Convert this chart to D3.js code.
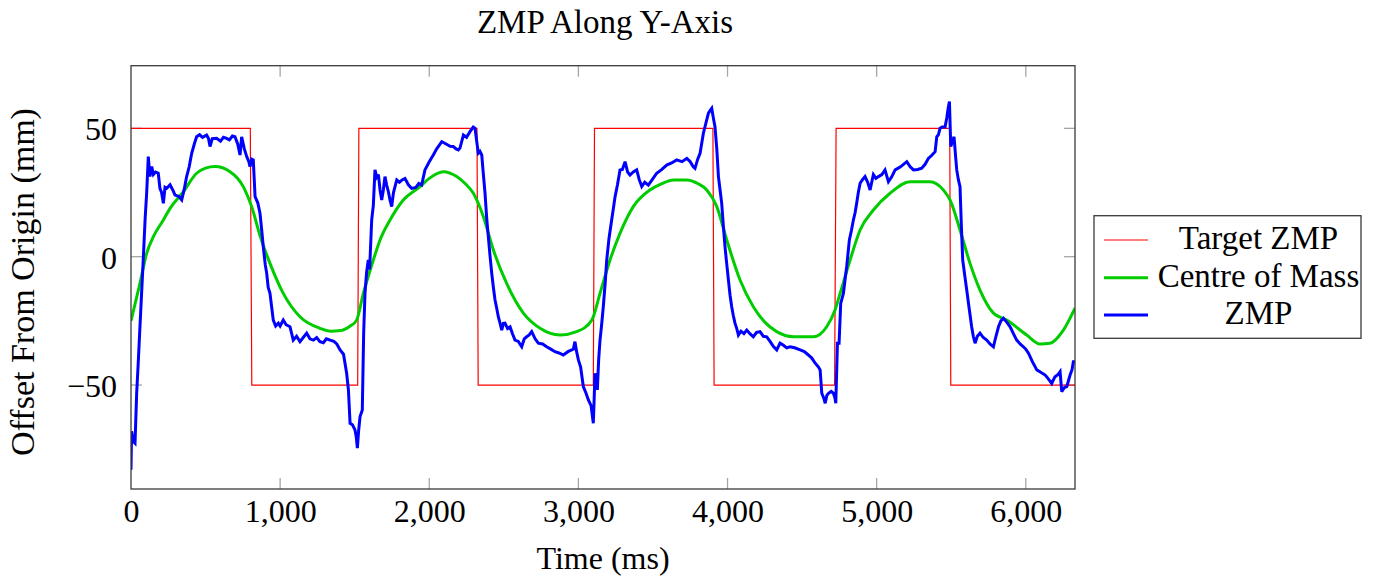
<!DOCTYPE html>
<html>
<head>
<meta charset="utf-8">
<script src="https://cdn.jsdelivr.net/npm/d3@7"></script>
<style>
  html, body { margin: 0; padding: 0; background: #fff; }
  svg text { font-family: "Liberation Serif", "Times New Roman", serif; fill: #000; }
</style>
</head>
<body>
<svg id="chart" width="1383" height="580"></svg>
<script>
// ---------------- DATA ----------------
const chartTitle = "ZMP Along Y-Axis";
const xLabel = "Time (ms)";
const yLabel = "Offset From Origin (mm)";
const seriesNames = ["Target ZMP", "Centre of Mass", "ZMP"];
const xTickValues = [0, 1000, 2000, 3000, 4000, 5000, 6000];
const yTickValues = [-50, 0, 50];
const xDomain = [0, 6330];
const yDomain = [-90.5, 74.4];

// Target ZMP (step function)
const targetTime = [0, 800, 810, 1520, 1528, 2320, 2328, 3100, 3108, 3902, 3910, 4718, 4728, 5490, 5497, 6330];
const targetValue = [50, 50, -50, -50, 50, 50, -50, -50, 50, 50, -50, -50, 50, 50, -50, -50];

// Centre of Mass [time, value]
const comPoints = [
  [0,-25],[60,-10.4],[105,1.3],[150,7.8],[217,14.3],[262,18.8],[351,25.3],[440,32.5],[500,34.5],[563,35.1],
  [664,33.1],[753,27.3],[809,19.5],[867,7.8],[932,-2.6],[1021,-14.3],[1133,-23.4],[1267,-27.9],[1340,-29],[1402,-28.8],
  [1470,-27],[1513,-24.7],[1558,-14.3],[1625,-1.3],[1670,6.5],[1737,14.3],[1826,22.1],[1938,27.3],[2000,30.5],[2095,33.1],
  [2184,31.2],[2240,28.5],[2296,24.7],[2363,15.6],[2430,2.6],[2519,-10.4],[2631,-22],[2743,-27.9],[2877,-30.5],[2989,-29.2],
  [3090,-24.7],[3145,-14.3],[3212,-1.3],[3279,9.1],[3368,19.5],[3480,26],[3560,28.5],[3637,29.9],[3727,29.9],[3800,28.5],
  [3861,26],[3928,19.5],[3995,6.5],[4084,-9.1],[4173,-19.5],[4250,-25.5],[4330,-29.2],[4442,-31.2],[4576,-31.2],[4665,-27.3],
  [4721,-20.8],[4755,-14.3],[4822,-1.3],[4889,10.4],[4978,18.2],[5090,24.7],[5224,29.2],[5358,29.2],[5447,26],[5492,22.1],
  [5559,10.4],[5626,-2.6],[5693,-13],[5783,-22],[5872,-24.7],[6006,-30.5],[6095,-34],[6163,-33.7],[6252,-28.6],[6330,-20]
];

// Measured ZMP [time, value]
const zmpPoints = [
  [0,-83],[4,-68],[15,-72],[27,-72.7],[38,-53.2],[48,-42],[60,-27.3],[82,-1.3],[95,15],[105,24.7],
  [116,39],[127,31.2],[139,35.1],[150,32],[165,33],[183,32.5],[194,26.6],[205,25],[217,20.8],[228,27],
  [239,26.6],[262,28],[280,26],[295,24],[320,23.5],[340,22.1],[356,26],[373,31.2],[390,35],[407,40.3],
  [425,44],[440,46.7],[460,47.5],[480,46.5],[507,47.4],[520,46],[530,42.9],[545,46],[574,46.1],[600,45],
  [620,46.5],[641,46.1],[660,45.5],[680,47],[697,46.7],[715,44],[731,39.6],[742,46.7],[760,42],[776,39],
  [790,37],[798,35.1],[810,38],[820,37.7],[832,23.4],[850,21],[865,16.9],[877,10],[887,3.9],[900,-3],
  [910,-6.5],[920,-12],[932,-14.3],[944,-20],[954,-24.7],[970,-27],[988,-25.9],[1000,-27],[1021,-24.7],[1040,-26.5],
  [1066,-27.3],[1088,-32.5],[1110,-31],[1133,-33.1],[1155,-31.5],[1178,-29.8],[1200,-32],[1223,-32.5],[1245,-31.5],[1267,-33.1],
  [1290,-33.5],[1310,-32],[1335,-32.5],[1360,-33],[1380,-34],[1402,-36.3],[1425,-38],[1446,-45.4],[1458,-52],[1469,-64.9],
  [1485,-65.5],[1502,-67.5],[1510,-70],[1518,-74.6],[1526,-68],[1536,-62.3],[1551,-59.7],[1560,-30],[1569,-14.3],[1580,-6],
  [1591,-1.3],[1600,-5],[1614,14.3],[1625,20],[1636,33.8],[1648,31],[1659,32],[1670,26],[1681,22.1],[1692,26],
  [1703,31.2],[1714,28],[1726,25.3],[1737,22],[1748,19.5],[1760,25],[1782,29.9],[1800,29],[1820,30],[1837,30.5],
  [1860,28],[1882,26.6],[1910,27],[1930,28.5],[1949,27.9],[1971,33.8],[2000,37],[2027,39.6],[2050,42],[2084,44.8],
  [2110,44],[2140,43],[2161,42.9],[2180,42],[2195,41.6],[2206,42.3],[2229,47.4],[2250,46.5],[2273,48.7],[2295,50.5],
  [2307,50],[2318,45],[2329,40.3],[2340,41],[2352,39.6],[2363,32],[2374,24.7],[2385,15],[2396,7.8],[2408,0],
  [2419,-6.5],[2430,-12],[2441,-16.9],[2452,-20],[2463,-23.4],[2475,-26],[2486,-28.6],[2497,-26],[2508,-25.9],[2525,-28],
  [2542,-27.3],[2558,-30],[2575,-32.5],[2597,-33],[2620,-35.1],[2637,-32],[2653,-31.2],[2670,-30.5],[2687,-29.2],[2710,-32],
  [2731,-33.7],[2760,-34],[2787,-35.1],[2815,-36],[2843,-37],[2870,-37.5],[2899,-38.3],[2930,-37],[2955,-36.3],[2966,-36],
  [2977,-33.1],[2988,-37],[3000,-40.2],[3015,-43],[3033,-50.6],[3050,-53],[3067,-55.8],[3085,-58],[3100,-64.9],[3106,-55],
  [3111,-45.4],[3120,-48],[3127,-51.9],[3136,-40],[3145,-32.5],[3155,-27],[3167,-19.5],[3180,-10],[3190,-1.3],[3205,7],
  [3223,14.3],[3235,19],[3246,23.4],[3262,28],[3279,33.8],[3295,34],[3313,37],[3330,33],[3346,31.8],[3368,33],
  [3391,33.8],[3408,30],[3425,27.3],[3445,29],[3469,27.9],[3495,30],[3525,32.5],[3560,34],[3592,35.7],[3625,36.5],
  [3659,37.7],[3695,37],[3727,38.3],[3750,37],[3770,35],[3782,34.4],[3800,38],[3816,40.3],[3838,48.1],[3855,52],
  [3872,55.9],[3884,57],[3894,57.8],[3905,54],[3916,50.6],[3928,42],[3939,31.2],[3950,26],[3961,20.8],[3972,12],
  [3983,3.9],[3995,-3],[4006,-9.1],[4017,-15],[4028,-19.5],[4039,-23],[4050,-25.9],[4062,-28],[4073,-30.5],[4090,-29],
  [4110,-30],[4129,-28.6],[4150,-30],[4173,-31.2],[4195,-29.5],[4218,-29.2],[4240,-31],[4263,-31.2],[4285,-33],[4308,-35],
  [4330,-36.3],[4352,-33.7],[4375,-34.5],[4397,-35.5],[4419,-35.1],[4450,-35.5],[4487,-36.3],[4515,-37],[4542,-38.3],[4565,-39.5],
  [4588,-41.5],[4610,-43],[4621,-44.1],[4632,-53.2],[4645,-55],[4655,-57.1],[4666,-54],[4677,-53.2],[4695,-52.5],[4710,-53.2],
  [4720,-55],[4726,-57.1],[4737,-33.7],[4748,-33.7],[4759,-18.2],[4777,-14.3],[4788,-9],[4799,-3.9],[4817,6.5],[4830,10],
  [4844,14.3],[4855,17],[4866,20.8],[4877,25],[4889,28.6],[4905,30],[4922,31.2],[4940,29],[4956,26],[4978,32],
  [4995,30.5],[5012,31.2],[5035,32],[5056,33.8],[5079,29.2],[5100,31],[5124,33.8],[5160,35],[5202,37],[5225,35],
  [5247,33.8],[5275,34],[5302,34.5],[5325,36],[5347,38.3],[5370,39.5],[5392,40.9],[5403,46.7],[5414,47.5],[5425,50],
  [5440,50.5],[5459,50.6],[5470,54],[5480,58],[5488,60.4],[5497,42.9],[5508,45],[5519,46.7],[5528,40],[5537,33.8],
  [5548,30],[5559,27.3],[5568,12],[5577,-1.3],[5590,-7],[5604,-13],[5620,-20],[5637,-27.3],[5648,-31],[5660,-33.7],
  [5675,-31],[5693,-29.8],[5715,-31.5],[5738,-32.5],[5760,-34],[5783,-35.1],[5800,-31],[5817,-27.3],[5833,-25],[5850,-24],
  [5872,-25.5],[5895,-27.3],[5917,-30],[5939,-32.5],[5962,-34],[5984,-35.1],[6000,-36],[6018,-37.6],[6045,-41],[6074,-44.1],
  [6100,-45],[6130,-46.1],[6150,-47.5],[6174,-49.4],[6185,-48],[6196,-46.8],[6215,-46],[6230,-44.8],[6241,-52.6],[6258,-51],
  [6275,-50.6],[6297,-46.1],[6310,-44],[6319,-40.9],[6330,-40.9]
];

const seriesColors = ["#ff0000", "#00cc00", "#0000ff"];
const seriesWidths = [1.2, 3, 3];

// ---------------- LAYOUT ----------------
const svg = d3.select("#chart");
const plot = { left: 131, right: 1075, top: 65.7, bottom: 489 };
const FS = 32;

const x = d3.scaleLinear().domain(xDomain).range([plot.left, plot.right]);
const y = d3.scaleLinear().domain(yDomain).range([plot.bottom, plot.top]);

svg.append("defs").append("clipPath").attr("id", "clip")
  .append("rect").attr("x", plot.left).attr("y", plot.top)
  .attr("width", plot.right - plot.left).attr("height", plot.bottom - plot.top);

// inward tick marks (all four sides)
const tickLen = 11;
const tickG = svg.append("g").attr("stroke", "#a6a6a6").attr("stroke-width", 1.3);
xTickValues.filter(v => v > xDomain[0]).forEach(v => {
  tickG.append("line").attr("x1", x(v)).attr("x2", x(v)).attr("y1", plot.bottom).attr("y2", plot.bottom - tickLen);
  tickG.append("line").attr("x1", x(v)).attr("x2", x(v)).attr("y1", plot.top).attr("y2", plot.top + tickLen);
});
yTickValues.forEach(v => {
  tickG.append("line").attr("x1", plot.left).attr("x2", plot.left + tickLen).attr("y1", y(v)).attr("y2", y(v));
  tickG.append("line").attr("x1", plot.right).attr("x2", plot.right - tickLen).attr("y1", y(v)).attr("y2", y(v));
});

// axes (labels only)
const fmt = d3.format(",");
const xAxis = svg.append("g").attr("transform", `translate(0,${plot.bottom})`)
  .call(d3.axisBottom(x).tickValues(xTickValues).tickSize(0).tickPadding(10).tickFormat(fmt));
xAxis.select(".domain").remove();
xAxis.selectAll("text").style("font-size", FS + "px").style("font-family", '"Liberation Serif", serif');

const yAxis = svg.append("g").attr("transform", `translate(${plot.left},0)`)
  .call(d3.axisLeft(y).tickValues(yTickValues).tickSize(0).tickPadding(14)
    .tickFormat(d => d < 0 ? "\u2212" + Math.abs(d) : String(d)));
yAxis.select(".domain").remove();
yAxis.selectAll("text").attr("dy", "0.36em").style("font-size", FS + "px").style("font-family", '"Liberation Serif", serif');

// series
const lineGen = d3.line().x(d => x(d[0])).y(d => y(d[1]));
const targetPoints = targetTime.map((t, i) => [t, targetValue[i]]);
const lines = svg.append("g").attr("clip-path", "url(#clip)");
lines.append("path").datum(targetPoints)
  .attr("d", lineGen).attr("fill", "none")
  .attr("stroke", seriesColors[0]).attr("stroke-width", seriesWidths[0]);
lines.append("path").datum(comPoints)
  .attr("d", d3.line().x(d => x(d[0])).y(d => y(d[1])).curve(d3.curveMonotoneX))
  .attr("fill", "none").attr("stroke", seriesColors[1]).attr("stroke-width", seriesWidths[1])
  .attr("stroke-linejoin", "round");
lines.append("path").datum(zmpPoints)
  .attr("d", lineGen).attr("fill", "none")
  .attr("stroke", seriesColors[2]).attr("stroke-width", seriesWidths[2])
  .attr("stroke-linejoin", "miter").attr("stroke-miterlimit", 3);

// frame
svg.append("rect").attr("x", plot.left).attr("y", plot.top)
  .attr("width", plot.right - plot.left).attr("height", plot.bottom - plot.top)
  .attr("fill", "none").attr("stroke", "#3a3a3a").attr("stroke-width", 1.3);

// title and axis labels
svg.append("text").attr("x", 605).attr("y", 33.3)
  .attr("text-anchor", "middle").style("font-size", "33px").text(chartTitle);
svg.append("text").attr("x", (plot.left + plot.right) / 2).attr("y", 569)
  .attr("text-anchor", "middle").style("font-size", FS + "px").text(xLabel);
svg.append("text").attr("transform", `translate(34,282) rotate(-90)`)
  .attr("text-anchor", "middle").style("font-size", "34px").text(yLabel);

// legend
const lg = svg.append("g");
lg.append("rect").attr("x", 1094).attr("y", 215.7).attr("width", 267).attr("height", 122.6)
  .attr("fill", "#fff").attr("stroke", "#3a3a3a").attr("stroke-width", 1.3);
const rowY = [240, 277.7, 315];
seriesNames.forEach((name, i) => {
  lg.append("line").attr("x1", 1104).attr("x2", 1148).attr("y1", rowY[i]).attr("y2", rowY[i])
    .attr("stroke", seriesColors[i]).attr("stroke-width", seriesWidths[i]);
  lg.append("text").attr("x", 1258.5).attr("y", rowY[i] + 9.3)
    .attr("text-anchor", "middle").style("font-size", "33px").text(name);
});
</script>
</body>
</html>
